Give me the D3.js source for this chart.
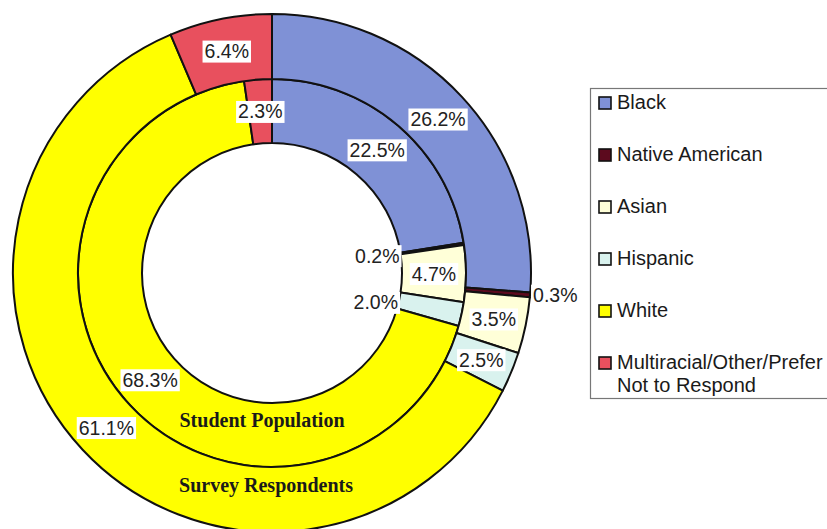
<!DOCTYPE html>
<html><head><meta charset="utf-8">
<script src="https://cdn.jsdelivr.net/npm/d3@7"></script>
<style>body{margin:0;background:#fff}</style></head>
<body><svg id="c" width="827" height="529"></svg>
<script>
const categories = ["Black","Native American","Asian","Hispanic","White","Multiracial/Other/Prefer Not to Respond"];
const legendLines = [["Black"],["Native American"],["Asian"],["Hispanic"],["White"],["Multiracial/Other/Prefer","Not to Respond"]];
const studentPopulation = [22.5,0.2,4.7,2.0,68.3,2.3];
const surveyRespondents = [26.2,0.3,3.5,2.5,61.1,6.4];
const ringLabels = ["Student Population","Survey Respondents"];
const colors = ["#7f91d6","#5c0a1e","#ffffd8","#d9f2ee","#ffff00","#e8505e"];

const svg = d3.select("#c");
const cx = 272, cy = 273;
const rHole = 130, rMid = 194, rOuter = 259;
const color = d3.scaleOrdinal().domain(categories).range(colors);
const pie = d3.pie().sort(null).value(d => d.v).startAngle(0).endAngle(2*Math.PI);

const rings = [
  {name: ringLabels[0], values: studentPopulation, r0: rHole, r1: rMid, inner: true},
  {name: ringLabels[1], values: surveyRespondents, r0: rMid, r1: rOuter, inner: false}
];

const g = svg.append("g").attr("transform", `translate(${cx},${cy})`);

rings.forEach(ring => {
  const arc = d3.arc().innerRadius(ring.r0).outerRadius(ring.r1);
  const data = pie(categories.map((c,i) => ({c, v: ring.values[i]})));
  ring.arcs = data; ring.arc = arc;
  g.append("g").selectAll("path").data(data).join("path")
    .attr("d", arc)
    .attr("fill", d => color(d.data.c))
    .attr("stroke", "#111")
    .attr("stroke-width", 2)
    .attr("stroke-linejoin", "round");
});

// ring names
rings.forEach((ring, i) => {
  g.append("text")
    .attr("x", i === 0 ? -10 : -6)
    .attr("y", (ring.r0 + ring.r1)/2 - 8)
    .attr("text-anchor", "middle")
    .attr("font-family", "Liberation Serif, Times New Roman, serif")
    .attr("font-weight", "bold")
    .attr("font-size", 20)
    .attr("fill", "#1a1a1a")
    .text(ring.name);
});

// data labels
const lg = g.append("g");
rings.forEach(ring => {
  ring.arcs.forEach(d => {
    const mid = (d.startAngle + d.endAngle)/2;
    let x, y, anchor;
    if (d.data.v > 2.0) {
      [x, y] = ring.arc.centroid(d); anchor = "middle";
    } else if (ring.inner) {
      const r = ring.r0 - 1;
      x = r*Math.sin(mid); y = -r*Math.cos(mid) + 2; anchor = "end";
    } else {
      const r = ring.r1 + 3;
      x = r*Math.sin(mid); y = -r*Math.cos(mid); anchor = "start";
    }
    const grp = lg.append("g");
    const t = grp.append("text")
      .attr("x", x).attr("y", y)
      .attr("dy", "0.36em")
      .attr("text-anchor", anchor)
      .attr("font-family", "Liberation Sans, Arial, sans-serif")
      .attr("font-size", 19.5)
      .attr("fill", "#222")
      .text(d.data.v.toFixed(1) + "%");
    const bb = t.node().getBBox();
    grp.insert("rect", "text")
      .attr("x", bb.x - 2).attr("y", bb.y + 0.5)
      .attr("width", bb.width + 4).attr("height", bb.height)
      .attr("fill", "#fff");
  });
});

// legend
const leg = svg.append("g");
leg.append("rect")
  .attr("x", 590.5).attr("y", 88.5)
  .attr("width", 260).attr("height", 310)
  .attr("fill", "#fff").attr("stroke", "#777").attr("stroke-width", 1.2);
const rowY = d3.scalePoint().domain(categories).range([109, 369]);
categories.forEach((c, i) => {
  const y = rowY(c);
  leg.append("rect")
    .attr("x", 599).attr("y", y - 12)
    .attr("width", 12).attr("height", 12)
    .attr("fill", color(c)).attr("stroke", "#111").attr("stroke-width", 1.6);
  const t = leg.append("text")
    .attr("x", 617).attr("y", y)
    .attr("font-family", "Liberation Sans, Arial, sans-serif")
    .attr("font-size", 20)
    .attr("fill", "#1a1a1a");
  legendLines[i].forEach((line, j) => {
    t.append("tspan").attr("x", 617).attr("dy", j === 0 ? 0 : 23).text(line);
  });
});
</script>
</body></html>
